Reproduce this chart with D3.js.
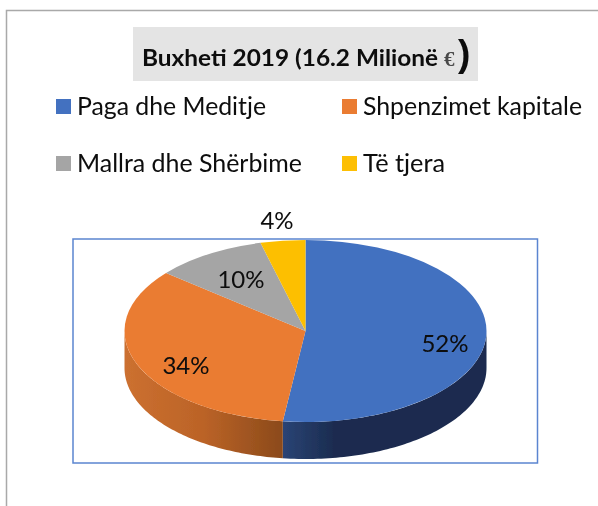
<!DOCTYPE html>
<html><head><meta charset="utf-8">
<script src="https://cdn.jsdelivr.net/npm/d3@7"></script>
<style>html,body{margin:0;padding:0;background:#fff}svg{display:block}text{font-family:Lato,"Noto Sans",sans-serif;fill:#0a0a0a}</style>
</head><body><svg id="c" width="598" height="506"></svg>
<script>
const categories = ["Paga dhe Meditje","Shpenzimet kapitale","Mallra dhe Shërbime","Të tjera"];
const values = [52,34,10,4];
const colors = ["#4371c0","#ea7c32","#a5a5a5","#fdbf04"];
const labels = ["52%","34%","10%","4%"];
const svg = d3.select("#c");
const cx=305.5, cy=331, rx=181, ry=91, depth=37;
const defs=svg.append("defs");
const soft=defs.append("filter").attr("id","soft");soft.append("feGaussianBlur").attr("stdDeviation",.45);
const softT=defs.append("filter").attr("id","softT");softT.append("feGaussianBlur").attr("stdDeviation",.3);
// outer frame
svg.append("path").attr("d","M6.5,506V10.5H598").attr("fill","none").attr("stroke","#a9a9a9").attr("stroke-width",1.5);
// title
svg.append("rect").attr("x",133).attr("y",27).attr("width",345).attr("height",54).attr("fill","#e4e4e4");
const title=svg.append("g").attr("filter","url(#softT)");
title.append("text").attr("x",142).attr("y",66).attr("font-size",23.5).attr("font-weight",700)
  .attr("textLength",296).attr("lengthAdjust","spacingAndGlyphs").text("Buxheti 2019 (16.2 Milionë");
title.append("text").attr("x",444).attr("y",66).attr("font-size",21).style("font-family","Liberation Serif").style("fill","#4a4a4a").attr("font-weight",700).text("€");
title.append("text").attr("x",458).attr("y",66).attr("font-size",37).attr("font-weight",700).style("font-family","Liberation Sans").text(")");
// legend
const legendX=[56,342,56,342], legendY=[99,99,156,156], legendW=[189,219,225,82];
const lg=svg.selectAll(".lg").data(categories).join("g").attr("transform",(d,i)=>`translate(${legendX[i]},${legendY[i]})`);
lg.append("rect").attr("width",15).attr("height",15).attr("fill",(d,i)=>colors[i]);
lg.append("text").attr("x",21).attr("y",15.5).attr("font-size",24.5).attr("filter","url(#softT)")
  .attr("textLength",(d,i)=>legendW[i]).attr("lengthAdjust","spacingAndGlyphs").text(d=>d);
// plot frame
svg.append("rect").attr("x",73).attr("y",239).attr("width",464.5).attr("height",224).attr("fill","#fff").attr("stroke","#5b85d0").attr("stroke-width",1.5);
// pie
const arcs=d3.pie().sort(null)(values);
const gradB=defs.append("linearGradient").attr("id","gb");
[[0,"#2a4475"],[.25,"#1b2c50"],[1,"#1b2c50"]].forEach(s=>gradB.append("stop").attr("offset",s[0]).attr("stop-color",s[1]));
const gradO=defs.append("linearGradient").attr("id","go");
[[0,"#cc7030"],[.5,"#bb6327"],[1,"#8b4a1b"]].forEach(s=>gradO.append("stop").attr("offset",s[0]).attr("stop-color",s[1]));
const pie=svg.append("g").attr("filter","url(#soft)");
const px=a=>cx+rx*Math.sin(a), py=a=>cy-ry*Math.cos(a);
const side=d3.area().x(px).y0(py).y1(a=>py(a)+depth);
const wall=[[Math.PI/2,arcs[0].endAngle,"url(#gb)"],[arcs[1].startAngle,Math.PI*1.5,"url(#go)"]];
wall.forEach(w=>pie.append("path").attr("d",side(d3.range(w[0],w[1]+1e-6,(w[1]-w[0])/80))).attr("fill",w[2]));
const arc=d3.arc().innerRadius(0).outerRadius(rx);
pie.selectAll(".s").data(arcs).join("path")
  .attr("transform",`translate(${cx},${cy}) scale(1,${ry/rx})`)
  .attr("d",arc).attr("fill",(d,i)=>colors[i]);
// data labels
const labX=[445,186,241,277], labY=[352,374,288,229];
svg.selectAll(".v").data(labels).join("text").attr("text-anchor","middle").attr("font-size",24).attr("filter","url(#softT)")
  .attr("x",(d,i)=>labX[i]).attr("y",(d,i)=>labY[i]).text(d=>d);
</script></body></html>
